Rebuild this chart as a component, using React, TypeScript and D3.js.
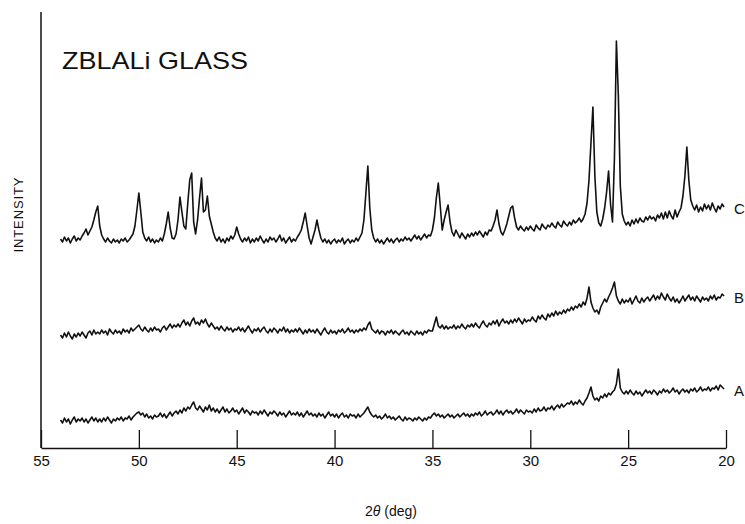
import React, { useEffect, useRef } from 'react';
import * as d3 from 'd3';

// Scan grid: 2θ from 54.0° down to 20.1° in 0.1° steps
const THETA_START = 54.0;
const THETA_STEP = 0.1;

// Intensity (arbitrary units), one row per degree
const traceC = [
  209,206,211,207,210,205,209,212,207,210,
  208,212,215,219,213,217,221,228,236,242,
  222,213,209,206,210,207,205,209,206,208,
  205,209,207,210,206,208,211,214,222,238,
  255,236,216,210,207,211,206,209,205,208,
  206,210,207,214,224,236,220,210,209,214,
  228,251,236,222,219,245,268,275,226,214,
  228,250,270,236,238,252,232,224,216,210,
  207,211,206,209,205,210,207,212,209,213,
  221,214,209,206,210,207,211,205,209,206,
  210,207,212,208,205,209,206,211,208,210,
  206,209,213,207,210,205,208,211,206,209,
  207,211,214,218,226,235,222,210,204,211,
  218,228,218,210,206,209,205,208,204,207,
  209,205,208,206,210,204,207,209,205,208,
  206,210,207,211,215,228,255,282,240,218,
  210,206,209,205,208,204,207,210,206,209,
  205,208,210,206,209,207,211,208,210,207,
  210,213,209,212,208,211,214,210,213,212,
  218,230,250,265,242,218,228,236,243,226,
  216,212,218,214,210,215,212,209,214,211,
  215,212,216,213,217,214,211,216,213,218,
  217,222,228,238,224,216,213,218,224,232,
  240,242,230,221,218,222,219,217,221,218,
  222,219,217,223,220,218,224,221,219,223,
  221,225,222,220,226,223,221,227,224,222,
  226,223,228,225,227,230,226,229,234,245,
  268,305,341,272,236,225,222,229,240,256,
  277,244,226,290,407,352,262,234,227,223,
  226,222,228,224,229,225,230,227,226,231,
  228,232,229,231,227,233,230,235,229,236,
  230,237,232,229,238,231,236,240,252,272,
  301,268,248,242,238,243,236,241,237,244,
  239,243,238,245,240,236,242,239,244,241,
];

const traceB = [
  113,110,115,111,116,112,109,114,111,115,
  112,116,113,110,115,117,113,118,114,116,
  114,118,115,117,113,119,116,114,118,115,
  117,114,119,116,118,115,120,117,119,121,
  123,119,117,121,118,116,120,117,121,118,
  119,116,120,122,118,121,124,120,123,121,
  124,121,125,128,123,126,122,127,130,124,
  126,123,128,125,129,124,121,125,122,119,
  121,118,122,119,117,121,118,120,116,119,
  118,121,117,120,116,119,122,118,115,119,
  117,120,116,119,121,117,115,119,116,120,
  118,115,119,117,121,116,119,115,118,116,
  119,116,120,117,114,118,115,119,116,118,
  115,119,116,113,117,120,116,114,118,115,
  117,114,118,116,119,115,117,120,116,118,
  115,118,116,119,117,120,118,123,126,119,
  117,115,118,114,117,116,113,117,115,118,
  114,117,115,113,116,118,114,116,113,117,
  115,113,117,114,116,113,117,115,118,117,
  117,124,131,122,120,123,119,122,119,121,
  120,123,119,122,120,124,121,119,123,121,
  124,121,125,122,120,124,127,123,121,125,
  123,127,124,128,122,126,129,125,127,124,
  128,125,129,126,130,127,124,129,126,128,
  127,131,128,126,132,129,133,130,128,134,
  131,135,132,137,133,136,134,138,135,139,
  137,141,138,142,140,144,141,146,143,150,
  161,146,140,136,138,134,141,145,149,146,
  151,155,160,166,152,147,144,149,145,148,
  146,150,144,148,152,147,145,150,146,149,
  151,147,150,153,148,152,149,155,151,148,
  154,150,147,151,146,149,145,148,152,147,
  150,153,148,151,147,152,149,146,151,148,
  150,147,152,149,153,148,151,150,154,152,
];

const traceA = [
  28,25,30,26,29,24,28,31,26,29,
  27,30,26,29,25,28,31,27,30,26,
  29,26,30,27,31,28,25,29,27,30,
  28,31,27,30,29,32,28,31,33,35,
  36,33,35,31,34,30,32,29,33,31,
  32,35,31,34,30,33,36,32,35,37,
  34,38,35,40,37,41,39,43,46,40,
  38,42,39,36,41,38,43,37,40,36,
  39,35,38,41,36,39,35,37,40,36,
  38,34,37,40,35,38,36,33,37,35,
  36,33,37,34,38,35,32,36,34,37,
  35,32,36,33,35,31,34,37,33,35,
  33,36,32,35,31,34,37,33,35,32,
  34,31,35,32,34,30,33,36,32,34,
  31,34,30,33,35,31,33,30,34,32,
  33,30,34,31,33,35,38,41,36,33,
  31,33,30,32,29,31,34,30,32,29,
  31,28,30,32,29,27,31,28,30,29,
  27,30,28,31,29,27,30,28,31,30,
  33,35,32,34,31,33,30,32,34,31,
  33,30,32,34,31,33,35,32,34,31,
  34,32,35,33,36,32,34,37,33,35,
  36,33,35,38,34,37,33,36,38,35,
  37,34,36,39,35,38,36,34,38,36,
  37,35,39,36,40,37,38,41,37,40,
  39,42,38,41,43,40,44,41,43,45,
  44,47,43,46,44,48,45,43,47,50,
  55,61,52,48,50,47,52,50,54,51,
  55,53,56,58,64,79,60,56,54,57,
  54,58,55,53,57,54,56,52,55,58,
  55,57,54,58,56,53,57,55,59,56,
  58,55,57,60,56,58,54,57,59,56,
  58,55,59,57,60,56,58,61,57,59,
  58,61,57,60,59,62,58,63,61,59,
];

const xTicks = [55, 50, 45, 40, 35, 30, 25, 20];
const seriesNames = ['C', 'B', 'A'];
const titleText = 'ZBLALi GLASS';
const yTitle = 'INTENSITY';

const FONT = "'Liberation Sans', Arial, Helvetica, sans-serif";

export default function App() {
  const W = 745;
  const H = 524;
  const x = d3.scaleLinear().domain([55, 20]).range([41, 726]);
  const y = d3.scaleLinear().domain([0, 436]).range([448, 12]);
  const theta = (i: number) => +(THETA_START - i * THETA_STEP).toFixed(1);
  const line = d3
    .line<number>()
    .x((_, i) => x(theta(i)))
    .y((d) => y(d));

  const axisRef = useRef<SVGGElement>(null);
  useEffect(() => {
    if (!axisRef.current) return;
    const g = d3.select(axisRef.current);
    g.selectAll('*').remove();
    g.call(
      d3
        .axisBottom(x)
        .tickValues(xTicks)
        .tickSize(-18)
        .tickSizeOuter(0)
        .tickPadding(7)
        .tickFormat(d3.format('d') as any)
    );
    g.select('.domain').attr('stroke', '#111').attr('stroke-width', 1.5);
    g.selectAll('.tick line').attr('stroke', '#111').attr('stroke-width', 1.3);
    g.selectAll('.tick text')
      .attr('font-size', 15)
      .attr('font-family', FONT)
      .attr('fill', '#111');
  }, []);

  const traces = [traceC, traceB, traceA];
  const labelY = [209, 298, 391];

  return (
    <svg
      width={W}
      height={H}
      style={{ position: 'absolute', left: 0, top: 0, display: 'block', background: '#fff' }}
    >
      <rect x={0} y={0} width={W} height={H} fill="#fff" />
      {/* y axis */}
      <line x1={41} y1={y(436)} x2={41} y2={448} stroke="#111" strokeWidth={1.5} />
      <g ref={axisRef} transform="translate(0,448)" />
      {traces.map((t, k) => (
        <path
          key={k}
          d={line(t) || ''}
          fill="none"
          stroke="#111"
          strokeWidth={1.6}
          strokeLinejoin="round"
        />
      ))}
      {seriesNames.map((s, k) => (
        <text
          key={s}
          x={734}
          y={labelY[k]}
          dy="0.35em"
          fontSize={15}
          fontFamily={FONT}
          fill="#111"
        >
          {s}
        </text>
      ))}
      <text
        x={62}
        y={69}
        fontSize={24}
        fontFamily={FONT}
        fill="#111"
        textLength={186}
        lengthAdjust="spacingAndGlyphs"
      >
        {titleText}
      </text>
      <text
        transform="translate(23,215) rotate(-90)"
        textAnchor="middle"
        fontSize={13}
        fontFamily={FONT}
        fill="#111"
        textLength={75}
        lengthAdjust="spacing"
      >
        {yTitle}
      </text>
      <text x={391} y={516} textAnchor="middle" fontSize={14} fontFamily={FONT} fill="#111">
        2<tspan fontStyle="italic">θ</tspan> (deg)
      </text>
    </svg>
  );
}
